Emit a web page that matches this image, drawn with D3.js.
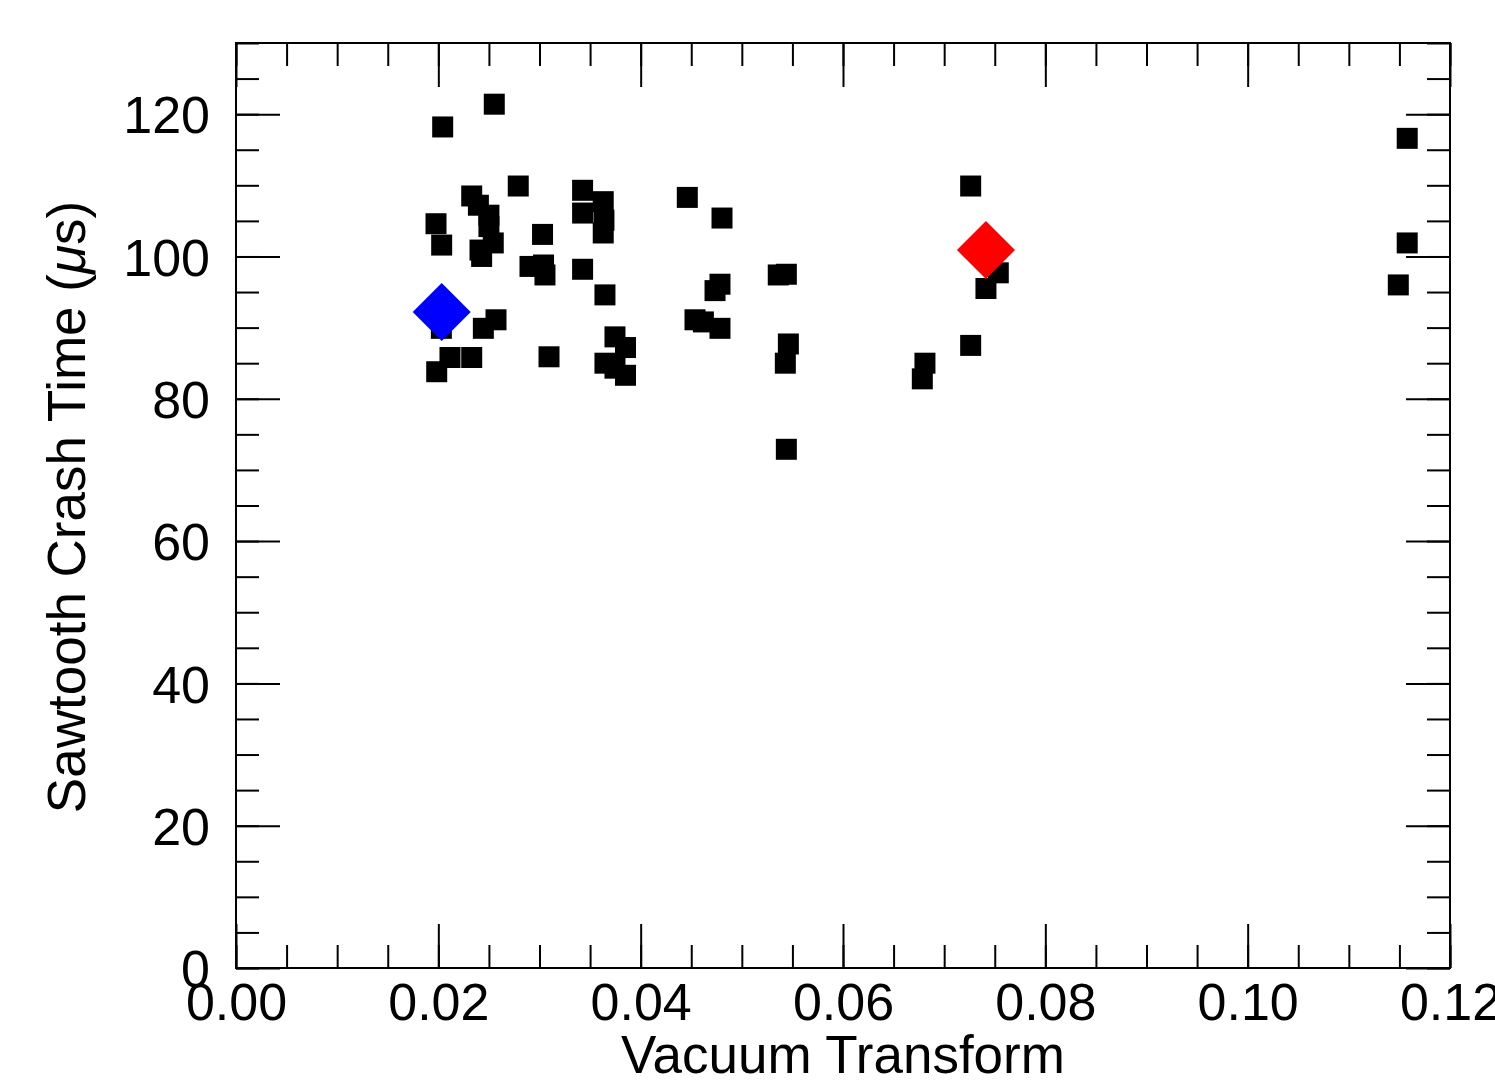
<!DOCTYPE html>
<html>
  <head>
    <meta charset="utf-8">
    <title>Sawtooth Crash Time vs Vacuum Transform</title>
    <script src="https://d3js.org/d3.v7.min.js"></script>
    <style>
      body { margin: 0; background: #fff; }
      svg { display: block; font-family: "Liberation Sans", Arial, sans-serif; }
      .axis path, .axis line { stroke: #000; stroke-width: 2; }
      .axis text { font-size: 52px; fill: #000; font-family: "Liberation Sans", Arial, sans-serif; }
    </style>
  </head>
  <body>
    <svg id="chart" width="1495" height="1081"></svg>
    <script>
      // data
      const iota = [0.02553, 0.02043, 0.0279, 0.0233, 0.02396, 0.0250, 0.0250, 0.01977, 0.02033, 0.02543,
              0.02428, 0.02412, 0.0303, 0.02906, 0.03054, 0.0304, 0.03426, 0.03426, 0.0363, 0.03637,
              0.0363, 0.03426, 0.03647, 0.0203, 0.0257, 0.02445, 0.02115, 0.0233, 0.01984, 0.03094,
              0.03746, 0.0385, 0.03647, 0.03746, 0.0385, 0.04461, 0.04804, 0.04784, 0.04735, 0.04537,
              0.0462, 0.04784, 0.0536, 0.0544, 0.0546, 0.0543, 0.0544, 0.07262, 0.07535, 0.07413,
              0.07262, 0.0681, 0.06784, 0.11577, 0.11577, 0.11489];
      const crashTime = [121.4, 118.2, 109.9, 108.5, 107.2, 105.8, 104.2, 104.6, 101.6, 101.9,
                   100.0, 100.9, 103.1, 98.6, 97.4, 98.8, 109.3, 106.1, 107.7, 105.1,
                   103.3, 98.2, 94.6, 89.9, 91.1, 89.9, 85.8, 85.8, 83.8, 85.9,
                   88.7, 87.2, 85.0, 84.3, 83.3, 108.3, 105.4, 96.1, 95.2, 91.1,
                   90.8, 89.9, 97.4, 97.5, 87.7, 85.0, 72.9, 109.9, 97.7, 95.5,
                   87.5, 85.0, 82.8, 116.6, 101.9, 96.0];
      const highlightX = [0.02033, 0.07413];
      const highlightY = [92.2, 100.9];
      const highlightColor = ["#0000ff", "#ff0000"];
      const xTicks = [0, 0.02, 0.04, 0.06, 0.08, 0.10, 0.12];
      const yTicks = [0, 20, 40, 60, 80, 100, 120];

      const svg = d3.select("#chart");
      const plotLeft = 236, plotRight = 1450, plotTop = 43, plotBottom = 968;

      const x = d3.scaleLinear().domain([0, 0.12]).range([plotLeft, plotRight]);
      const y = d3.scaleLinear().domain([0, 130]).range([plotBottom, plotTop]);
      const xMinor = d3.range(0, 0.1201, 0.005);
      const yMinor = d3.range(0, 130.1, 5);

      // frame
      svg.append("rect")
        .attr("x", plotLeft).attr("y", plotTop)
        .attr("width", plotRight - plotLeft).attr("height", plotBottom - plotTop)
        .attr("fill", "none").attr("stroke", "#000").attr("stroke-width", 2);

      // minor ticks on all sides
      svg.append("g").attr("class", "axis").attr("transform", `translate(0,${plotBottom})`)
        .call(d3.axisBottom(x).tickValues(xMinor).tickSize(-23).tickFormat(""));
      svg.append("g").attr("class", "axis").attr("transform", `translate(0,${plotTop})`)
        .call(d3.axisTop(x).tickValues(xMinor).tickSize(-23).tickFormat(""));
      svg.append("g").attr("class", "axis").attr("transform", `translate(${plotLeft},0)`)
        .call(d3.axisLeft(y).tickValues(yMinor).tickSize(-23).tickFormat(""));
      svg.append("g").attr("class", "axis").attr("transform", `translate(${plotRight},0)`)
        .call(d3.axisRight(y).tickValues(yMinor).tickSize(-23).tickFormat(""));

      // major ticks with labels
      const xAxis = svg.append("g").attr("class", "axis").attr("transform", `translate(0,${plotBottom})`)
        .call(d3.axisBottom(x).tickValues(xTicks).tickSize(-44).tickPadding(52).tickFormat(d3.format(".2f")));
      xAxis.selectAll("text").attr("dy", "0");
      svg.append("g").attr("class", "axis").attr("transform", `translate(0,${plotTop})`)
        .call(d3.axisTop(x).tickValues(xTicks).tickSize(-44).tickFormat(""));
      const yAxis = svg.append("g").attr("class", "axis").attr("transform", `translate(${plotLeft},0)`)
        .call(d3.axisLeft(y).tickValues(yTicks).tickSize(-44).tickPadding(26).tickFormat(d3.format("d")));
      yAxis.selectAll("text").attr("dy", "0.36em");
      svg.append("g").attr("class", "axis").attr("transform", `translate(${plotRight},0)`)
        .call(d3.axisRight(y).tickValues(yTicks).tickSize(-44).tickFormat(""));
      svg.selectAll(".axis .domain").remove();

      // axis titles
      svg.append("text")
        .attr("x", (plotLeft + plotRight) / 2).attr("y", 1073)
        .attr("text-anchor", "middle").attr("font-size", 53)
        .text("Vacuum Transform");
      const yTitle = svg.append("text")
        .attr("transform", "translate(85,507) rotate(-90)")
        .attr("text-anchor", "middle").attr("font-size", 53);
      yTitle.append("tspan").text("Sawtooth Crash Time (");
      yTitle.append("tspan").attr("font-style", "italic").text("\u03bc");
      yTitle.append("tspan").text("s)");

      // data points
      const square = d3.symbol().type(d3.symbolSquare).size(21 * 21);
      svg.append("g").selectAll("path")
        .data(d3.range(iota.length))
        .join("path")
          .attr("d", square)
          .attr("transform", i => `translate(${x(iota[i])},${y(crashTime[i])})`)
          .attr("fill", "#000");

      const diamond = d3.symbol().type(d3.symbolSquare).size(41 * 41);
      svg.append("g").selectAll("path")
        .data(d3.range(highlightX.length))
        .join("path")
          .attr("d", diamond)
          .attr("transform", i => `translate(${x(highlightX[i])},${y(highlightY[i])}) rotate(45)`)
          .attr("fill", i => highlightColor[i]);
    </script>
  </body>
</html>
